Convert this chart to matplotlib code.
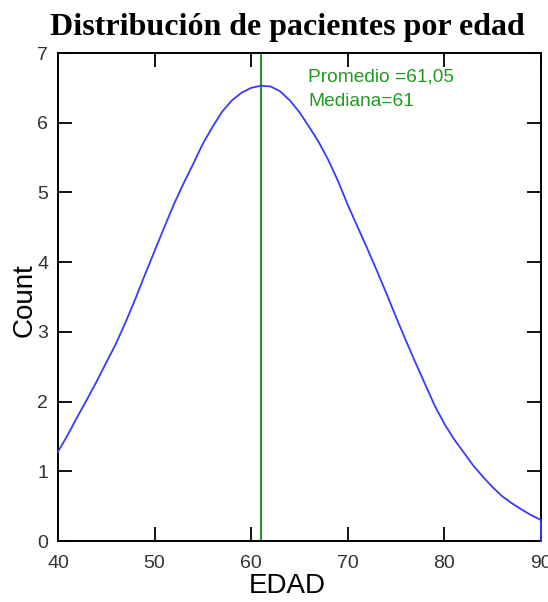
import matplotlib
matplotlib.use("Agg")
import matplotlib.pyplot as plt

edad = [40, 41, 42, 43, 44, 45, 46, 47, 48, 49, 50, 51, 52, 53, 54, 55, 56, 57, 58, 59,
        60, 61, 62, 63, 64, 65, 66, 67, 68, 69, 70, 71, 72, 73, 74, 75, 76, 77, 78, 79,
        80, 81, 82, 83, 84, 85, 86, 87, 88, 89, 90, 90]
count = [1.28, 1.52, 1.78, 2.03, 2.29, 2.56, 2.83, 3.14, 3.47, 3.82, 4.16, 4.50, 4.83,
         5.13, 5.41, 5.70, 5.94, 6.16, 6.32, 6.43, 6.50, 6.53, 6.52, 6.45, 6.32, 6.15,
         5.94, 5.72, 5.46, 5.16, 4.82, 4.51, 4.20, 3.88, 3.55, 3.21, 2.88, 2.56, 2.25,
         1.94, 1.68, 1.46, 1.27, 1.08, 0.92, 0.77, 0.64, 0.54, 0.45, 0.37, 0.30, 0.0]
promedio = 61.05
mediana = 61
xticks = [40, 50, 60, 70, 80, 90]
yticks = [0, 1, 2, 3, 4, 5, 6, 7]

fig = plt.figure(figsize=(5.48, 6.02), dpi=100)
ax = fig.add_axes([58/548, 1-541/602, (541-58)/548, (541-53)/602])

ax.plot(edad, count, color='#3a3aff', lw=1.3, clip_on=False, zorder=3)
ax.axvline(mediana, color='#118811', lw=1.3, zorder=2)

ax.text(65.9, 6.66, f"Promedio ={str(promedio).replace('.', ',')}", color='#229922',
        fontsize=13.8, family='Liberation Sans', va='center', ha='left')
ax.text(65.9, 6.30, f"Mediana={mediana}", color='#229922',
        fontsize=13.8, family='Liberation Sans', va='center', ha='left')

ax.set_xlim(40, 90)
ax.set_ylim(0, 7)
ax.set_xticks(xticks)
ax.set_yticks(yticks)
ax.tick_params(direction='in', length=10, width=1.3, top=True, right=True,
               labelsize=14, labelcolor='#333333')
ax.tick_params(axis='x', pad=10)
ax.tick_params(axis='y', pad=7)
for lab in ax.get_xticklabels() + ax.get_yticklabels():
    lab.set_family('Liberation Sans')
for s in ax.spines.values():
    s.set_linewidth(1.4)

ax.set_xlabel('EDAD', fontsize=20, family='Liberation Sans', va='top')
ax.xaxis.set_label_coords((287-58)/483, (541-573)/488)
ax.set_ylabel('Count', fontsize=20, family='Liberation Sans', va='center')
ax.yaxis.set_label_coords((25-58)/483, (541-300)/488)

fig.text(287/548, 1-28/602, 'Distribución de pacientes por edad', fontsize=23,
         family='Liberation Serif', weight='bold', ha='center', va='center')

fig.savefig('out.png', dpi=100)
